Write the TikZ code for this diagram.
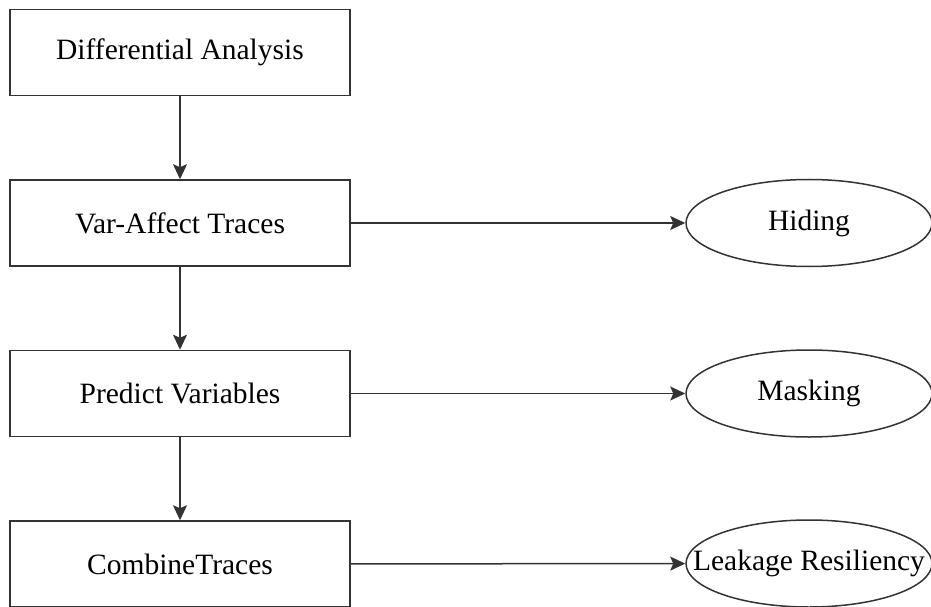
\documentclass[tikz,border=0pt]{standalone}
\usepackage{fontspec}
\setmainfont{Liberation Serif}
\usepackage{tikz}
\usetikzlibrary{shapes.geometric, arrows.meta, positioning}
\tikzstyle{process} = [rectangle, minimum width=170pt, minimum height=43pt, text centered, draw=black!80, line width=0.75pt]
\tikzstyle{outcome} = [ellipse, minimum width=123pt, minimum height=43.5pt, inner sep=0pt, text centered, draw=black!80, line width=0.75pt]
\tikzstyle{arrow} = [line width=0.75pt, draw=black!80, -{Stealth[length=7.5pt,width=7pt,inset=1.5pt]}]

\begin{document}
\begin{tikzpicture}[x=0.5pt, y=0.5pt, font=\fontsize{14.75}{18}\selectfont]
        \useasboundingbox (0,0) rectangle (931,606);
        \node[process] (diff) at (180,553.5) {Differential Analysis};
        \node[process] (vat) at (180,383) {Var-Affect Traces};
        \node[process] (pred) at (180,212.5) {Predict Variables};
        \node[process] (comb) at (180,42) {CombineTraces};
        \node[outcome] (hide) at (809,383) {\makebox[0pt]{Hiding}};
        \node[outcome] (mask) at (809,212.5) {\makebox[0pt]{Masking}};
        \node[outcome] (leak) at (809,42.5) {\makebox[0pt]{Leakage Resiliency}};
        \draw[arrow] (diff) -- (vat);
        \draw[arrow] (vat) -- (pred);
        \draw[arrow] (pred) -- (comb);
        \draw[arrow] (vat) -- (hide);
        \draw[arrow] (pred) -- (mask);
        \draw[arrow] (comb) -- (leak);
        \end{tikzpicture}
\end{document}
